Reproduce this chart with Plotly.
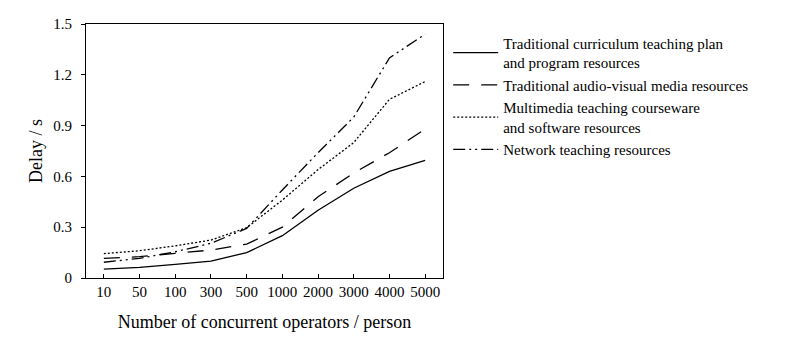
"""Delay vs number of concurrent operators for four kinds of teaching resources."""

import plotly.graph_objects as go

operators = ["10", "50", "100", "300", "500", "1000", "2000", "3000", "4000", "5000"]

curriculum = [0.053, 0.063, 0.081, 0.10, 0.15, 0.25, 0.40, 0.53, 0.63, 0.695]
audio_visual = [0.116, 0.126, 0.146, 0.165, 0.20, 0.30, 0.48, 0.62, 0.74, 0.88]
multimedia = [0.144, 0.161, 0.19, 0.224, 0.297, 0.46, 0.64, 0.80, 1.055, 1.16]
network = [0.093, 0.116, 0.155, 0.205, 0.293, 0.52, 0.74, 0.95, 1.30, 1.44]

series = [
    ("Traditional curriculum teaching plan<br>and program resources", curriculum, "solid"),
    ("Traditional audio-visual media resources", audio_visual, "16px,12px"),
    ("Multimedia teaching courseware<br>and software resources", multimedia, "2px,2px"),
    ("Network teaching resources", network, "12px,4px,2px,4px,2px,4px"),
]

FONT = "Times New Roman"

fig = go.Figure()
for name, vals, dash in series:
    fig.add_trace(go.Scatter(
        x=operators, y=vals, mode="lines", name=name,
        line=dict(color="black", width=1.3, dash=dash),
    ))

# page body keeps the browser's 8px margin, so margins are shifted by 8px
fig.update_layout(
    width=794, height=343,
    margin=dict(l=78, r=359, t=16, b=73, autoexpand=False),
    paper_bgcolor="white", plot_bgcolor="white",
    font=dict(family=FONT, size=15, color="black"),
    showlegend=True,
    legend=dict(x=1.0146, y=0.99, xanchor="left", yanchor="top",
                font=dict(family=FONT, size=15), tracegroupgap=1,
                itemwidth=45, bgcolor="rgba(0,0,0,0)"),
)
fig.update_xaxes(
    type="category", showgrid=False, showline=True, linecolor="black", linewidth=1,
    mirror=True, ticks="inside", ticklen=4, tickcolor="black",
    title=dict(text="Number of concurrent operators / person", standoff=16),
    range=[-0.5, 9.5], automargin=False,
)
fig.update_yaxes(
    range=[0, 1.5], tickvals=[0, 0.3, 0.6, 0.9, 1.2, 1.5],
    ticktext=["0", "0.3", "0.6", "0.9", "1.2", "1.5"],
    showgrid=False, zeroline=False, showline=True, linecolor="black", linewidth=1,
    mirror=True, ticks="outside", ticklen=4, tickcolor="black", ticklabelstandoff=6,
    title=dict(text="Delay / s", standoff=5), automargin=False,
)

fig.write_html("out.html")
